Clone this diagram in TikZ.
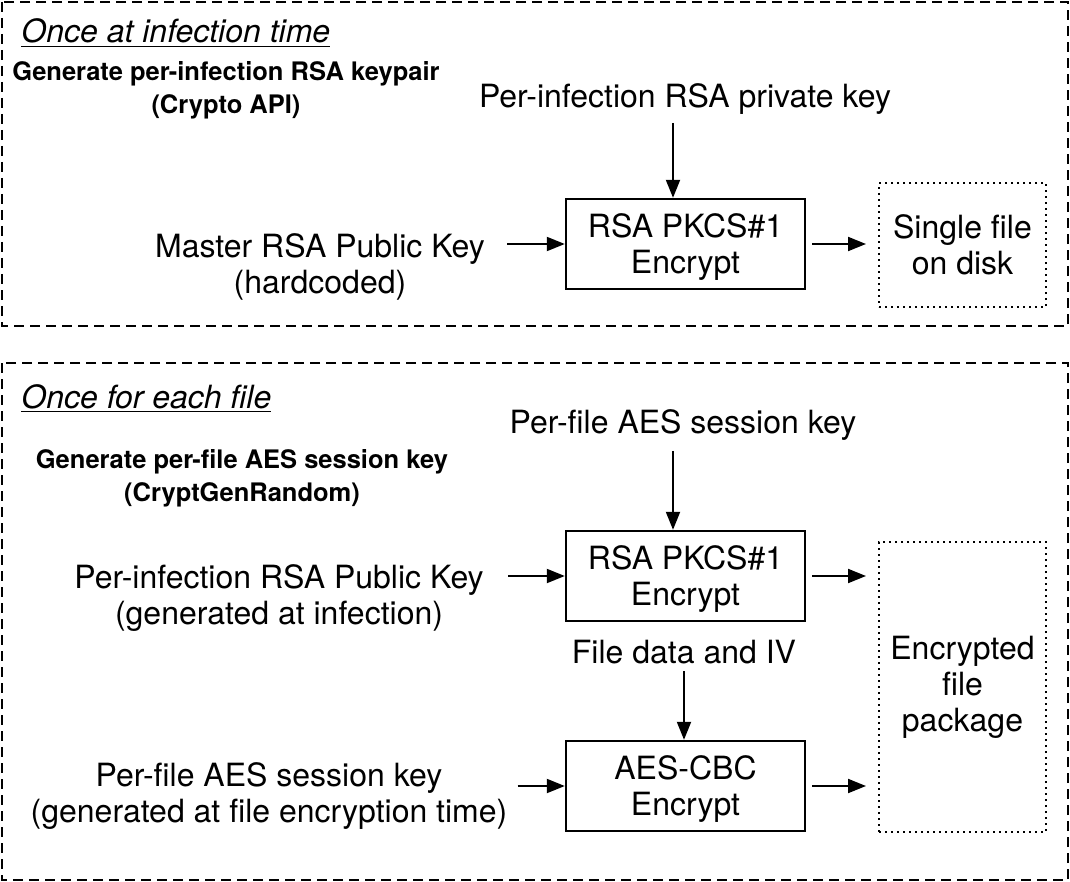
\documentclass[tikz,border=0pt]{standalone}
\usepackage{fontspec}
\setmainfont{TeX Gyre Heros}
\usetikzlibrary{arrows.meta}

\begin{document}
\begin{tikzpicture}[x=0.5pt, y=-0.5pt, >={Triangle[length=9pt,width=7pt]},
	every node/.style={font=\fontsize{16}{18}\selectfont, inner sep=2pt},
	frame/.style={line width=1pt, dash pattern=on 5pt off 3pt},
	cipher/.style={draw, line width=1.2pt, minimum width=119.5pt, minimum height=45pt, align=center, text depth=0pt},
	store/.style={draw, line width=1pt, dash pattern=on 1pt off 2pt, align=center},
	gen/.style={align=center, font=\fontsize{12.75}{16.5}\selectfont\bfseries},
	title/.style={anchor=base west, font=\fontsize{16}{18}\selectfont\itshape},
	flow/.style={->, line width=1pt}]
		\useasboundingbox (0,0) rectangle (1070,882);
		\draw[frame] (2,2) rectangle (1068,326);
		\draw[frame] (2,363) rectangle (1068,880);
			\node[title] (once1) at (17,43) {\underline{Once at infection time}};
			\node[gen] (gen1) at (226,90) {Generate per-infection RSA keypair\\(Crypto API)};
			\node (privkey) at (685,99) {Per-infection RSA private key};
			\node[cipher] (rsa1) at (685.5,244) {RSA PKCS\#1\\Encrypt};
			\node[align=center] (master) at (320,267) {Master RSA Public Key\\(hardcoded)};
			\node[store, minimum width=83.5pt, minimum height=62pt] (disk) at (962.5,245) {Single file\\on disk};
			\draw[flow, shorten <=2pt] ([xshift=-6.25pt]rsa1.north |- privkey.south) -- ([xshift=-6.25pt]rsa1.north);
			\draw[flow, shorten <=9pt] (master.east |- rsa1.west) -- (rsa1.west);
			\draw[flow, shorten <=3pt, shorten >=6pt] (rsa1.east) -- (rsa1.east -| disk.west);
			\node[title] (once2) at (17,408) {\underline{Once for each file}};
			\node[gen] (gen2) at (242,478) {Generate per-file AES session key\\(CryptGenRandom)};
			\node (aeskey1) at (683,425) {Per-file AES session key};
			\node[cipher] (rsa2) at (685.5,576) {RSA PKCS\#1\\Encrypt};
			\node[align=center] (infkey) at (279,598) {Per-infection RSA Public Key\\(generated at infection)};
			\node (fdata) at (684,652) {File data and IV};
			\node[cipher] (aes) at (685.5,786) {AES-CBC\\Encrypt};
			\node[align=center] (aeskey2) at (269,796) {Per-file AES session key\\(generated at file encryption time)};
			\node[store, minimum width=83.5pt, minimum height=145pt] (pkg) at (962.5,687) {Encrypted\\file\\package};
			\draw[flow, shorten <=3pt] ([xshift=-6.25pt]rsa2.north |- aeskey1.south) -- ([xshift=-6.25pt]rsa2.north);
			\draw[flow, shorten <=10pt] (infkey.east |- rsa2.west) -- (rsa2.west);
			\draw[flow, shorten <=3pt, shorten >=6pt] (rsa2.east) -- (rsa2.east -| pkg.west);
			\draw[flow, shorten <=1.5pt] (fdata.south) -- (fdata.south |- aes.north);
			\draw[flow, shorten <=3pt] (aeskey2.east |- aes.west) -- (aes.west);
			\draw[flow, shorten <=3pt, shorten >=6pt] (aes.east) -- (aes.east -| pkg.west);
\end{tikzpicture}
\end{document}
